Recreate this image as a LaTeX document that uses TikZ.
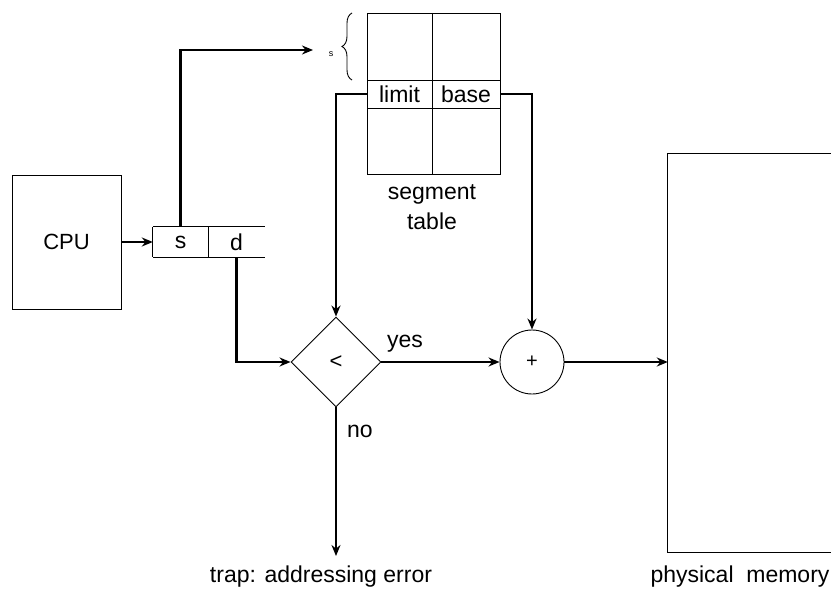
\documentclass[tikz,border=0pt]{standalone}
\usepackage{fontspec}
\setmainfont{Liberation Sans}
\usetikzlibrary{shapes.geometric,arrows.meta,decorations.pathreplacing}
\begin{document}
\begin{tikzpicture}[x=1pt,y=-1pt,
  thin line/.style={line width=0.9pt},
  conn/.style={line width=2.2pt,-{Stealth[length=11pt,width=9pt]}},
  lbl/.style={font=\fontsize{23}{27}\selectfont,inner sep=0pt},
  cell/.style={minimum height=30pt,inner sep=0pt,font=\fontsize{23}{27}\selectfont}]
\useasboundingbox (0,0) rectangle (831,591);
% CPU
\node[draw,thin line,minimum width=109pt,minimum height=134pt,inner sep=0pt,font=\fontsize{22}{26}\selectfont] (cpu) at (66.5,242) {CPU};
% logical address register
\node[cell,minimum width=55pt] (s) at (180.5,242) {s};
\node[cell,minimum width=57pt] (d) at (236.5,242) {d};
\draw[thin line] (s.north west) -- (d.north east);
\draw[thin line] (s.south west) -- (d.south east);
\draw[thin line] (s.north west) -- (s.south west);
\draw[thin line] (s.north east) -- (s.south east);
% segment table
\draw[thin line] (367,13) rectangle (500,174);
\draw[thin line] (367,80) -- (500,80);
\draw[thin line] (367,108) -- (500,108);
\draw[thin line] (432,13) -- (432,174);
\node[cell,minimum width=65pt,minimum height=28pt] (limit) at (399.5,94) {limit};
\node[cell,minimum width=68pt,minimum height=28pt] (base) at (466,94) {base};
\node[lbl,align=center,font=\fontsize{23}{30}\selectfont] (segtab) at (432,207) {segment\\table};
% brace
\draw[thin line,decorate,decoration={brace,amplitude=10pt}] (352,80) -- (352,13);
\node[font=\fontsize{9}{10}\selectfont,inner sep=0pt] (sidx) at (331,54) {s};
\coordinate (sin) at (313,50);
% comparator and adder
\node[draw,thin line,diamond,minimum width=90pt,minimum height=90pt,inner sep=0pt,font=\fontsize{22}{26}\selectfont] (cmp) at (336,362) {<};
\node[draw,thin line,circle,minimum size=64pt,inner sep=0pt,font=\fontsize{20}{24}\selectfont] (add) at (532,362) {+};
% physical memory
\node[minimum width=163pt,minimum height=398pt,inner sep=0pt] (mem) at (749.5,353) {};
\draw[thin line] (mem.north east) -- (mem.north west) -- (mem.south west) -- (mem.south east);
\node[lbl] (memlbl) at (740,577) {physical\ \ memory};
% trap
\coordinate (trap) at (336,556);
\node[lbl] (traplbl) at (321,577) {trap: addressing error};
% connectors
\draw[conn] (cpu.east) -- (s.west);
\draw[conn] (s.north) |- (sin);
\draw[conn] (limit.west) -- (cmp.center |- limit.west) -- (cmp.north);
\draw[conn] (base.east) -| (add.north);
\draw[conn] (d.south) |- (cmp.west);
\draw[conn] (cmp.east) -- node[lbl,pos=0.2,above=9pt] (yes) {yes} (add.west);
\draw[conn] (add.east) -- (mem.west |- add.east);
\draw[conn] (cmp.south) -- node[lbl,pos=0.16,right=10pt] (no) {no} (trap);
\end{tikzpicture}
\end{document}
